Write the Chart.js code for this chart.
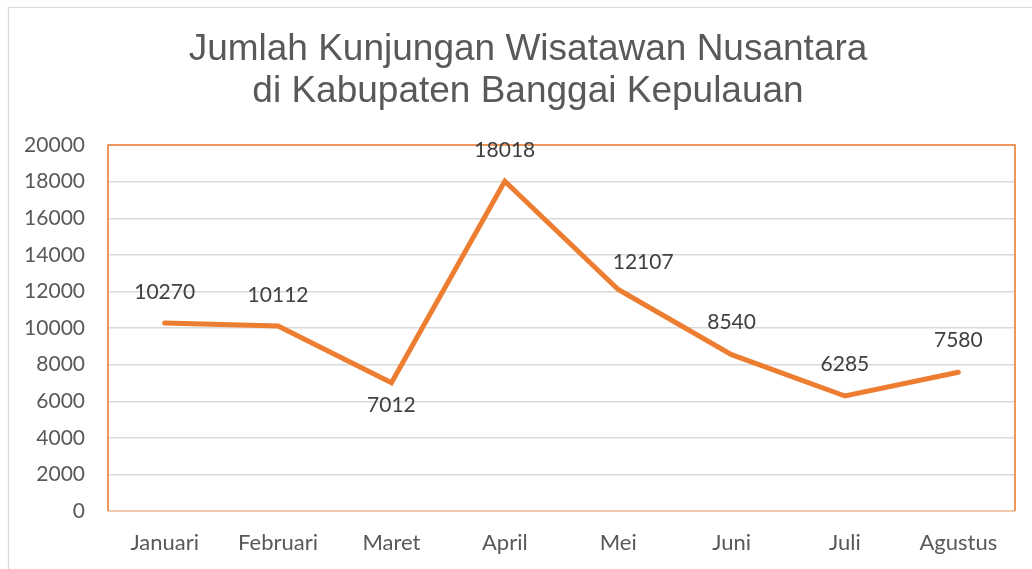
<!DOCTYPE html>
<html><head><meta charset="utf-8">
<script src="https://cdn.jsdelivr.net/npm/chart.js@4.4.1/dist/chart.umd.min.js"></script>
<style>html,body{margin:0;padding:0;background:#fff;overflow:hidden}canvas{display:block}</style>
</head><body>
<canvas id="c" width="1032" height="569"></canvas>
<script>
// ---- data ----
const titleLines = ["Jumlah Kunjungan Wisatawan Nusantara", "di Kabupaten Banggai Kepulauan"];
const categories = ["Januari", "Februari", "Maret", "April", "Mei", "Juni", "Juli", "Agustus"];
const visitors = [10270, 10112, 7012, 18018, 12107, 8540, 6285, 7580];
const yTickValues = [0, 2000, 4000, 6000, 8000, 10000, 12000, 14000, 16000, 18000, 20000];

// ---- style ----
const ORANGE = '#ED7D31';
const GRID = '#D9D9D9';
const TEXT = '#595959';
const LABEL = '#404040';
const FAMILY = 'Lato, "Open Sans", sans-serif';
const labelFont = '21px ' + FAMILY;
// data label offsets relative to the point [dx, dy]
const labelOffsets = [[0,-31],[0,-31],[0,23],[0,-31],[25,-27],[0,-32],[0,-32],[0,-32]];

const decor = {
  id: 'decor',
  beforeDraw(chart) {
    const ctx = chart.ctx;
    ctx.save();
    ctx.fillStyle = '#fff';
    ctx.fillRect(0, 0, chart.width, chart.height);
    ctx.strokeStyle = GRID;
    ctx.lineWidth = 1.2;
    ctx.beginPath();
    ctx.moveTo(8.5, chart.height + 5);
    ctx.lineTo(8.5, 7.5);
    ctx.lineTo(chart.width + 5, 7.5);
    ctx.stroke();
    ctx.restore();
  },
  beforeDatasetsDraw(chart) {
    const ctx = chart.ctx, a = chart.chartArea;
    ctx.save();
    ctx.strokeStyle = '#F0C9AC';
    ctx.lineWidth = 2;
    ctx.beginPath();
    ctx.moveTo(a.left, a.bottom);
    ctx.lineTo(a.right, a.bottom);
    ctx.stroke();
    ctx.strokeStyle = ORANGE;
    ctx.lineWidth = 1.6;
    ctx.beginPath();
    ctx.moveTo(a.left, a.bottom);
    ctx.lineTo(a.left, a.top);
    ctx.lineTo(a.right, a.top);
    ctx.lineTo(a.right, a.bottom);
    ctx.stroke();
    ctx.restore();
  },
  afterDatasetsDraw(chart) {
    const ctx = chart.ctx;
    const meta = chart.getDatasetMeta(0);
    ctx.save();
    ctx.font = labelFont;
    ctx.fillStyle = LABEL;
    ctx.textAlign = 'center';
    ctx.textBaseline = 'middle';
    meta.data.forEach((pt, i) => {
      const off = labelOffsets[i];
      ctx.fillText(String(visitors[i]), pt.x + off[0], pt.y + off[1]);
    });
    ctx.restore();
  },
  afterDraw(chart) {
    const ctx = chart.ctx;
    ctx.save();
    ctx.font = '37px "Liberation Sans", Arial, sans-serif';
    ctx.fillStyle = TEXT;
    ctx.textAlign = 'center';
    ctx.textBaseline = 'alphabetic';
    ctx.fillText(titleLines[0], 528, 60);
    ctx.fillText(titleLines[1], 528, 102);
    ctx.restore();
  }
};

new Chart(document.getElementById('c'), {
  type: 'line',
  data: {
    labels: categories,
    datasets: [{
      data: visitors,
      borderColor: ORANGE,
      backgroundColor: ORANGE,
      borderWidth: 5,
      borderCapStyle: 'round',
      borderJoinStyle: 'miter',
      pointRadius: 0,
      tension: 0,
      fill: false
    }]
  },
  options: {
    responsive: false,
    animation: false,
    devicePixelRatio: 1,
    layout: { padding: { top: 145, right: 17, left: 0, bottom: 0 } },
    plugins: { legend: { display: false }, title: { display: false }, tooltip: { enabled: false } },
    scales: {
      x: {
        offset: true,
        grid: { display: false, drawTicks: false },
        border: { display: false },
        ticks: { color: TEXT, font: { family: FAMILY, size: 22 }, padding: 19, maxRotation: 0 },
        afterFit(s) { s.height = 58; }
      },
      y: {
        min: 0, max: 20000,
        afterBuildTicks(s) { s.ticks = yTickValues.map(v => ({ value: v })); },
        grid: { color: GRID, lineWidth: 1.4, drawTicks: false },
        border: { display: false },
        ticks: { color: TEXT, font: { family: FAMILY, size: 21 }, padding: 23, callback: v => String(v) },
        afterFit(s) { s.width = 108; }
      }
    }
  },
  plugins: [decor]
});
</script>
</body></html>
